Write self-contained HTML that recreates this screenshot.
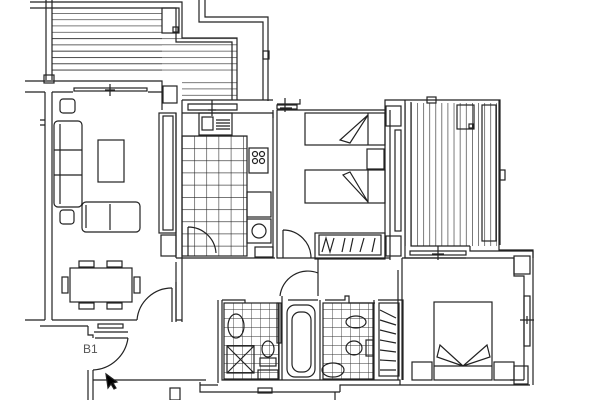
<!DOCTYPE html>
<html><head><meta charset="utf-8"><style>
html,body{margin:0;padding:0;background:#fff;width:600px;height:400px;overflow:hidden}
svg{display:block}
text{font-family:"Liberation Sans",sans-serif}
</style></head><body>
<svg width="600" height="400" viewBox="0 0 600 400" xmlns="http://www.w3.org/2000/svg">
<defs>
<pattern id="tile" x="182" y="136" width="12.2" height="12.2" patternUnits="userSpaceOnUse">
<path d="M0 0H12.2M0 0V12.2" stroke="#222" stroke-width="1.1" fill="none"/></pattern>
<pattern id="tile2" x="224" y="300" width="9" height="9" patternUnits="userSpaceOnUse">
<path d="M0 0H9M0 0V9" stroke="#333" stroke-width="0.9" fill="none"/></pattern>
<pattern id="hs" x="0" y="13" width="10" height="6.3" patternUnits="userSpaceOnUse">
<path d="M0 0H10" stroke="#333" stroke-width="1.3"/></pattern>
<pattern id="vs" x="411" y="0" width="6.1" height="10" patternUnits="userSpaceOnUse">
<path d="M0 0V10" stroke="#333" stroke-width="1.3"/></pattern>
</defs>
<g fill="none" stroke="#222" stroke-width="1.2">
<rect x="52" y="10" width="110" height="65" fill="url(#hs)" stroke="none"/>
<rect x="52" y="38" width="185" height="38" fill="url(#hs)" stroke="none"/>
<rect x="182" y="82" width="55" height="18" fill="url(#hs)" stroke="none"/>
<path d="M30 2H182V38H237V100M30 8H176V42H232V100"/>
<rect x="162" y="8" width="17" height="25"/><rect x="173" y="27" width="5" height="5"/>
<path d="M46 0V80M52 0V80M199 0V22H263V100M205 0V17H268V101"/>
<rect x="263" y="51" width="6" height="8"/>
<rect x="44" y="75" width="10" height="8"/>
<path d="M25 81H162V84M25 92H45M52 92H73M148 92H162V110M162 84V110"/>
<rect x="74" y="88" width="73" height="3"/>
<path d="M110 84V96M105 90H115"/>
<path d="M45 92V320M52 92V320"/>
<path d="M40 120H45M40 125H45"/>
<rect x="163" y="86" width="14" height="17"/>
<path d="M182 100V113M237 100H273"/>
<path d="M182 100H237"/>
<path d="M188 104H237V110H188Z"/>
<path d="M212 100V116M208 110H216"/>
<rect x="60" y="99" width="15" height="14" rx="3"/>
<rect x="54" y="121" width="28" height="86" rx="4"/><path d="M60 124V204M54 150H82M54 175H82"/>
<rect x="98" y="140" width="26" height="42"/>
<rect x="60" y="210" width="14" height="14" rx="3"/>
<rect x="82" y="202" width="58" height="30" rx="4"/><path d="M110 204V230M86 205V228"/>
<rect x="70" y="268" width="62" height="34"/>
<rect x="79" y="261" width="15" height="6"/><rect x="107" y="261" width="15" height="6"/>
<rect x="79" y="303" width="15" height="6"/><rect x="107" y="303" width="15" height="6"/>
<rect x="62" y="277" width="6" height="16"/><rect x="134" y="277" width="6" height="16"/>
<rect x="159" y="113" width="17" height="120"/><rect x="163" y="116" width="10" height="114"/>
<rect x="161" y="235" width="15" height="21"/>
<path d="M176 113V258M182 113V322M176 258H182M176 262V320H182"/>
<path d="M182 113H273V118M182 258H275"/>
<rect x="182" y="136" width="65" height="120" fill="url(#tile)"/>
<rect x="199" y="113" width="33" height="22"/><rect x="202" y="117" width="11" height="13"/>
<path d="M216 120H230M216 123H230M216 126H230M216 129H230"/>
<rect x="249" y="148" width="19" height="25"/>
<circle cx="255" cy="154" r="2.5"/><circle cx="262" cy="154" r="2.5"/><circle cx="255" cy="161" r="2.5"/><circle cx="262" cy="161" r="2.5"/>
<rect x="247" y="192" width="24" height="25"/>
<rect x="247" y="219" width="24" height="24"/><circle cx="259" cy="231" r="7"/>
<rect x="255" y="247" width="18" height="10"/>
<path d="M188 227V256M188 227A28 28 0 0 1 216 253"/>
<path d="M273 110V258M277 110V238M277 238V258H315"/>
<path d="M283 230V258M283 230A28 28 0 0 1 311 258"/>
<path d="M25 320H45M52 320H137M40 326H88M88 326V335H93V338M94 332H128M172 288V322M176 282V322"/>
<path d="M137 320A35 35 0 0 1 172 288"/>
<path d="M95 338H128M128 338A37 37 0 0 1 93 370"/>
<rect x="98" y="324" width="25" height="4"/>
<text x="83" y="353" font-size="12" fill="#555" stroke="none">B1</text>
<path d="M88 370V400M93 370V400M93 380H206"/>
<path d="M106 374L108 388L111 384L114 389L116 388L113 383L117 382Z" fill="#000"/>
<path d="M277 110H385V100H405M277 104H300V99"/>
<rect x="277" y="105" width="20" height="4"/>
<path d="M285 98V112M280 108H292"/>
<rect x="305" y="113" width="80" height="32"/><path d="M368 113V145M368 115L350 143L340 140Z"/>
<rect x="305" y="170" width="80" height="33"/><path d="M368 170V203M368 202L350 172L343 175Z"/>
<rect x="367" y="149" width="17" height="20"/>
<rect x="315" y="233" width="70" height="26"/><rect x="319" y="235" width="62" height="20"/>
<path d="M322 252L326 238L330 252L334 238M342 252L345 238M350 252L353 238M360 252L364 238M372 252L375 238"/>
<rect x="386" y="236" width="15" height="20"/>
<rect x="386" y="106" width="15" height="20"/>
<path d="M385 110V258M390 110V260M315 258H390"/>
<rect x="395" y="130" width="6" height="101"/>
<rect x="405" y="103" width="92" height="143" fill="url(#vs)" stroke="none"/>
<path d="M405 100H500V245M405 100V247M411 102V246H470M499 100V250H533V258"/>
<rect x="427" y="97" width="9" height="6"/>
<rect x="457" y="105" width="17" height="24"/><rect x="469" y="124" width="4" height="4"/>
<rect x="482" y="105" width="14" height="136"/>
<rect x="500" y="170" width="5" height="10"/>
<path d="M405 247V258H466M470 246V251H533"/>
<rect x="410" y="251" width="56" height="4"/><path d="M438 246V260M432 254H444"/>
<path d="M402 258H514V276H524V380M533 251V385M510 380H524"/>
<rect x="514" y="256" width="16" height="18"/>
<path d="M402 258V380M398 270V380"/>
<rect x="524" y="296" width="6" height="50"/><path d="M520 320H534M527 316V324"/>
<rect x="434" y="302" width="58" height="78"/><path d="M434 366H492"/>
<path d="M463 366L440 345L437 357ZM463 366L487 345L490 357Z"/>
<rect x="412" y="362" width="20" height="18"/><rect x="494" y="362" width="20" height="18"/>
<rect x="514" y="366" width="14" height="18"/>
<path d="M200 382V392H335V400M335 392H340M340 392V385H530"/>
<path d="M222 300H245V303M222 300V380H400V385M218 300V383"/>
<path d="M200 385H218"/>
<rect x="224" y="303" width="55" height="76" fill="url(#tile2)"/>
<rect x="227" y="346" width="27" height="27"/><path d="M227 346L254 373M254 346L227 373"/>
<ellipse cx="236" cy="326" rx="8" ry="12"/>
<ellipse cx="268" cy="349" rx="6" ry="8"/><rect x="260" y="358" width="16" height="8"/>
<rect x="258" y="370" width="20" height="9"/>
<rect x="277" y="303" width="4" height="40"/>
<path d="M282 300V380M288 300H318M282 300V296"/>
<rect x="287" y="305" width="28" height="72" rx="8"/><rect x="292" y="312" width="19" height="60" rx="8"/>
<path d="M320 300V380M325 300H345V296H349V303H375"/>
<rect x="323" y="303" width="50" height="76" fill="url(#tile2)"/>
<ellipse cx="356" cy="322" rx="10" ry="6"/>
<ellipse cx="354" cy="348" rx="8" ry="7"/><rect x="366" y="340" width="7" height="16"/>
<ellipse cx="333" cy="370" rx="11" ry="7"/>
<path d="M374 300V380M378 300H403V380"/>
<rect x="379" y="303" width="20" height="73"/>
<path d="M380 310L396 318M380 320L396 325M380 330L396 334M380 340L396 343M380 350L396 352M380 360L396 361M380 370L396 370"/>
<rect x="258" y="388" width="14" height="5"/>
<rect x="170" y="388" width="10" height="12"/>
<path d="M280 296A28 28 0 0 1 318 273M318 258V296"/>
</g>
</svg>
</body></html>
